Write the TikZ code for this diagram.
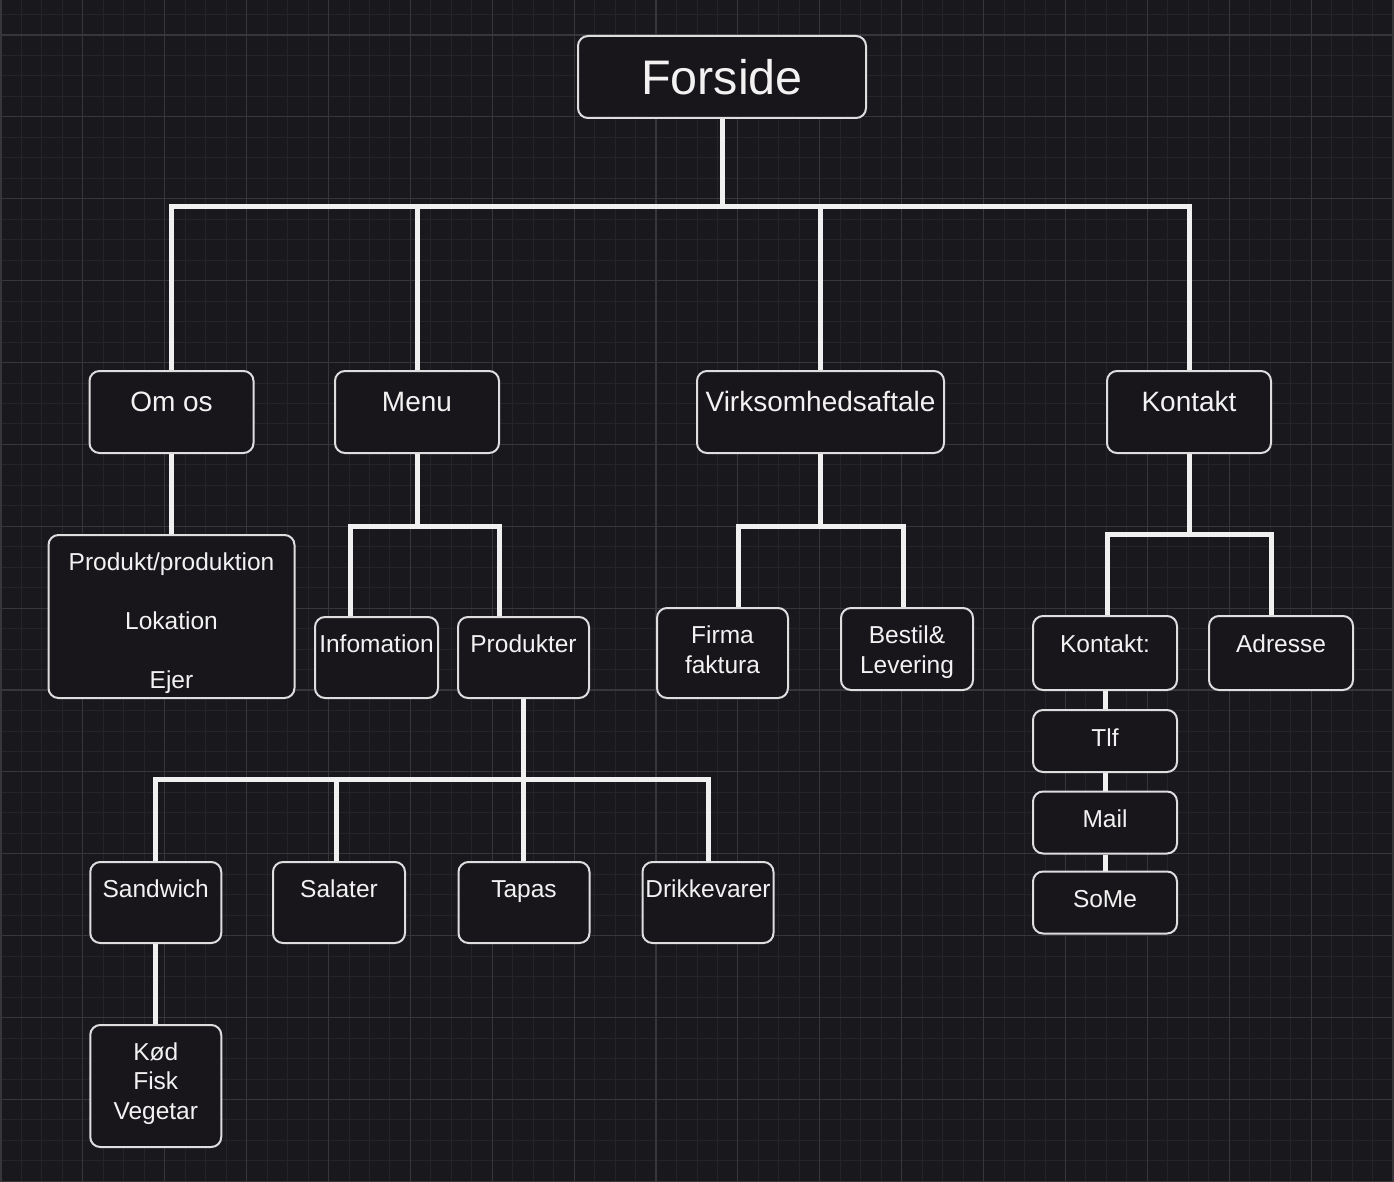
\documentclass[tikz,border=0pt]{standalone}
\usepackage{fontspec}
\setmainfont{Liberation Sans}
\usetikzlibrary{positioning}

\definecolor{bgcol}{RGB}{25,24,29}
\definecolor{minorcol}{RGB}{37,36,41}
\definecolor{majorcol}{RGB}{55,54,59}
\definecolor{boxfill}{RGB}{24,22,27}
\definecolor{boxline}{RGB}{222,222,222}
\definecolor{wirecol}{RGB}{240,240,240}
\definecolor{textcol}{RGB}{242,242,242}

\begin{document}
\begin{tikzpicture}[
    x = 1pt, y = -1pt, % one unit per pixel, y runs down
    wire/.style = {draw = wirecol, line width = 5pt}, % connector lines
    minorgrid/.style = {draw = minorcol, line width = 0.9pt},
    majorgrid/.style = {draw = majorcol, line width = 1.1pt},
    box/.style = {
        draw = boxline,
        fill = boxfill,
        line width = 2pt,
        rounded corners = 10pt,
        inner sep = 0pt,
        text = textcol,
        align = center,
        font = \fontsize{24.5}{29.4}\selectfont
        },
    top/.style = {box, minimum width = 288pt, minimum height = 82pt,
        font = \fontsize{48.5}{58}\selectfont, text height = 36pt, text depth = 0pt},
    lvl/.style = {box, minimum width = 164pt, minimum height = 82pt,
        font = \fontsize{28}{33.6}\selectfont, text height = 20pt, text depth = 22pt},
    sub/.style = {box, minimum width = 131pt, minimum height = 81pt,
        text height = 18pt, text depth = 29pt},
    kbox/.style = {box, minimum width = 144pt, minimum height = 62pt,
        text height = 22pt, text depth = 12pt}
    ]

    % background and grid
    \useasboundingbox (0,0) rectangle (1394,1182);
    \fill[bgcol] (0,0) rectangle (1394,1182);
    \foreach \i in {0,...,68}
        \draw[minorgrid] ({1+20.47*\i},0) -- ({1+20.47*\i},1182);
    \foreach \j in {-1,...,56}
        \draw[minorgrid] (0,{35+20.47*\j}) -- (1394,{35+20.47*\j});
    \foreach \i in {0,...,17}
        \draw[majorgrid] ({1+81.88*\i},0) -- ({1+81.88*\i},1182);
    \foreach \j in {0,...,14}
        \draw[majorgrid] (0,{35+81.88*\j}) -- (1394,{35+81.88*\j});

    \node[top] (forside) at (722,77) {Forside};

    \node[lvl] (omos) at (171.5,412) {Om os};
    \node[lvl] (menu) at (417,412) {Menu};
    \node[lvl, minimum width = 247pt] (virk) at (820.5,412) {Virksomhedsaftale};
    \node[lvl] (kontakt) at (1189,412) {Kontakt};

    \node[box, minimum width = 246pt, minimum height = 163pt,
        text height = 148pt, text depth = 5pt] (omtekst) at (171.5,616.5)
        {Produkt/produktion\\[29.4pt] Lokation\\[29.4pt] Ejer};

    \node[sub, minimum width = 123pt] (info) at (376.5,657.5) {Infomation};
    \node[sub] (produkter) at (523.5,657.5) {Produkter};

    \node[box, minimum width = 131pt, minimum height = 90pt,
        text height = 48pt, text depth = 8pt] (firma) at (722.5,653) {Firma\\faktura};
    \node[box, minimum width = 132pt, minimum height = 82pt,
        text height = 54pt, text depth = 6pt] (bestil) at (907,649) {Bestil\&\\Levering};

    \node[sub] (sandwich) at (155.75,902.5) {Sandwich};
    \node[sub, minimum width = 132pt] (salater) at (339,902.5) {Salater};
    \node[sub] (tapas) at (524,902.5) {Tapas};
    \node[sub] (drikke) at (708,902.5) {Drikkevarer};

    \node[box, minimum width = 131pt, minimum height = 122pt,
        text height = 77pt, text depth = 11pt] (koed) at (155.75,1086) {Kød\\Fisk\\Vegetar};

    \node[box, minimum width = 144pt, minimum height = 74pt,
        text height = 18pt, text depth = 20pt] (kontaktinfo) at (1105,653) {Kontakt:};
    \node[box, minimum width = 144pt, minimum height = 74pt,
        text height = 18pt, text depth = 20pt] (adresse) at (1281,653) {Adresse};
    \node[kbox] (tlf) at (1105,741) {Tlf};
    \node[kbox] (mail) at (1105,822.5) {Mail};
    \node[kbox] (some) at (1105,902.5) {SoMe};

    % bus heights
    \coordinate (bus0) at (0,207);
    \coordinate (bus1) at (0,526);
    \coordinate (bus2) at (0,534);
    \coordinate (bus3) at (0,779);

    \foreach \n in {omos,menu,virk,kontakt}
        \draw[wire] (forside.south) -- (forside.south |- bus0) -| (\n.north);

    \draw[wire] (omos.south) -- (omtekst.north);

    \draw[wire] (menu.south) -- (menu.south |- bus1) -| ([xshift=-26.5pt]info.north);
    \draw[wire] (menu.south) -- (menu.south |- bus1) -| ([xshift=-24.5pt]produkter.north);

    \draw[wire] (virk.south) -- (virk.south |- bus1) -| ([xshift=15.5pt]firma.north);
    \draw[wire] (virk.south) -- (virk.south |- bus1) -| ([xshift=-4pt]bestil.north);

    \draw[wire] (kontakt.south) -- (kontakt.south |- bus2) -| ([xshift=2pt]kontaktinfo.north);
    \draw[wire] (kontakt.south) -- (kontakt.south |- bus2) -| ([xshift=-10pt]adresse.north);

    \draw[wire] (kontaktinfo.south) -- (tlf.north);
    \draw[wire] (tlf.south) -- (mail.north);
    \draw[wire] (mail.south) -- (some.north);

    \draw[wire] (produkter.south) -- (produkter.south |- bus3) -| ([xshift=-0.75pt]sandwich.north);
    \draw[wire] (produkter.south) -- (produkter.south |- bus3) -| ([xshift=-3pt]salater.north);
    \draw[wire] (produkter.south) -- (produkter.south |- bus3) -| ([xshift=-1pt]tapas.north);
    \draw[wire] (produkter.south) -- (produkter.south |- bus3) -| (drikke.north);

    \draw[wire] (sandwich.south) -- (koed.north);
\end{tikzpicture}
\end{document}
